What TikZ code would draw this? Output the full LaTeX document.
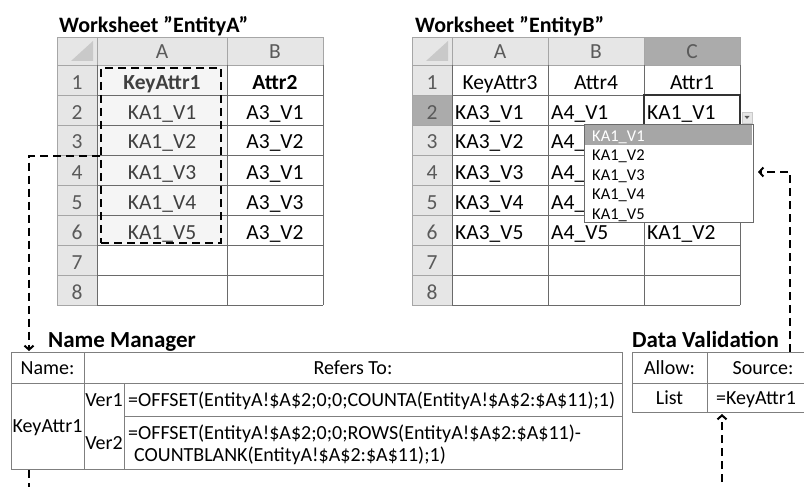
\documentclass[tikz,border=0pt]{standalone}
\usepackage{fontspec}
\setmainfont{Carlito}
\usetikzlibrary{arrows.meta}

\definecolor{hdrfill}{HTML}{E6E6E6}
\definecolor{hdrsel}{HTML}{ABABAB}
\definecolor{corner}{HTML}{C9C9C9}
\definecolor{hdrline}{HTML}{A6A6A6}
\definecolor{gridline}{HTML}{6A6A6A}
\definecolor{hdrtext}{HTML}{5A5A5A}
\definecolor{seltext}{HTML}{404040}
\definecolor{selfill}{HTML}{F5F5F5}
\definecolor{tabline}{HTML}{7F7F7F}
\definecolor{listsel}{HTML}{A6A6A6}

\begin{document}
\begin{tikzpicture}[x=1pt,y=-1pt,
    title/.style={font=\fontsize{23}{27}\selectfont\bfseries, inner sep=0pt, anchor=base west},
    sheettitle/.style={title, font=\fontsize{22}{26}\selectfont\bfseries},
    hdr/.style={font=\fontsize{21.5}{25}\selectfont, text=hdrtext, inner sep=0pt, anchor=base},
    cell/.style={font=\fontsize{21.5}{25}\selectfont, inner sep=0pt, anchor=base},
    bcell/.style={cell, font=\fontsize{21.5}{25}\selectfont\bfseries},
    lcell/.style={cell, anchor=base west},
    item/.style={font=\fontsize{16.5}{19}\selectfont, inner sep=0pt, anchor=base west},
    tab/.style={font=\fontsize{20}{24}\selectfont, inner sep=0pt, anchor=base},
    ltab/.style={tab, anchor=base west},
    link/.style={black, line width=2pt, dash pattern=on 8pt off 5pt},
    tip/.style={-{Straight Barb[length=4pt,width=9pt]}}]
    \useasboundingbox (0,0) rectangle (804,487);
    \clip (0,0) rectangle (804,487);

    % worksheet EntityA
    \node[sheettitle] (titleA) at (59,33) {Worksheet ”EntityA”};
    \fill[hdrfill] (57,37) rectangle (323,65);
    \fill[hdrfill] (57,65) rectangle (97,305);
    \fill[selfill] (97,65) rectangle (227,245);
    \fill[corner] (93,41) -- (93,61) -- (71,61) -- cycle;
    \draw[hdrline] (57,37) rectangle (323,65);
    \draw[hdrline] (57,65) -- (57,305) -- (97,305);
    \draw[hdrline] (97,37) -- (97,65) (227,37) -- (227,65);
    \draw[hdrline] (57,95) -- (97,95) (57,125) -- (97,125) (57,155) -- (97,155) (57,185) -- (97,185)
        (57,215) -- (97,215) (57,245) -- (97,245) (57,275) -- (97,275);
    \draw[gridline] (97,95) -- (323,95) (97,125) -- (323,125) (97,155) -- (323,155) (97,185) -- (323,185)
        (97,215) -- (323,215) (97,245) -- (323,245) (97,275) -- (323,275) (97,305) -- (323,305);
    \draw[gridline] (97,65) -- (97,305) (227,65) -- (227,305) (323,65) -- (323,305);
    \node[hdr] (a-colA) at (162,59) {A};
    \node[hdr] (a-colB) at (275,59) {B};
    \node[hdr] (a-r1) at (77,89) {1};
    \node[hdr] (a-r2) at (77,119) {2};
    \node[hdr] (a-r3) at (77,149) {3};
    \node[hdr] (a-r4) at (77,179) {4};
    \node[hdr] (a-r5) at (77,209) {5};
    \node[hdr] (a-r6) at (77,239) {6};
    \node[hdr] (a-r7) at (77,269) {7};
    \node[hdr] (a-r8) at (77,299) {8};
    \node[bcell, text=seltext] (a-keyattr1) at (162,89) {KeyAttr1};
    \node[cell, text=seltext] (a-ka1v1) at (162,119) {KA1\_V1};
    \node[cell, text=seltext] (a-ka1v2) at (162,149) {KA1\_V2};
    \node[cell, text=seltext] (a-ka1v3) at (162,179) {KA1\_V3};
    \node[cell, text=seltext] (a-ka1v4) at (162,209) {KA1\_V4};
    \node[cell, text=seltext] (a-ka1v5) at (162,239) {KA1\_V5};
    \node[bcell] (a-attr2) at (275,89) {Attr2};
    \node[cell] (a-a3v1) at (275,119) {A3\_V1};
    \node[cell] (a-a3v2) at (275,149) {A3\_V2};
    \node[cell] (a-a3v1b) at (275,179) {A3\_V1};
    \node[cell] (a-a3v3) at (275,209) {A3\_V3};
    \node[cell] (a-a3v2b) at (275,239) {A3\_V2};
    \node[draw, link, minimum width=120pt, minimum height=175pt, inner sep=0pt] (keyrange) at (161,155.5) {};

    % worksheet EntityB
    \node[sheettitle] (titleB) at (415,33) {Worksheet ”EntityB”};
    \fill[hdrfill] (412,37) rectangle (740,65);
    \fill[hdrfill] (412,65) rectangle (452,305);
    \fill[hdrsel] (644,37) rectangle (740,65);
    \fill[hdrsel] (412,95) rectangle (452,125);
    \fill[corner] (448,41) -- (448,61) -- (426,61) -- cycle;
    \draw[hdrline] (412,37) rectangle (740,65);
    \draw[hdrline] (412,65) -- (412,305) -- (452,305);
    \draw[hdrline] (452,37) -- (452,65) (548,37) -- (548,65) (644,37) -- (644,65);
    \draw[hdrline] (412,95) -- (452,95) (412,125) -- (452,125) (412,155) -- (452,155) (412,185) -- (452,185)
        (412,215) -- (452,215) (412,245) -- (452,245) (412,275) -- (452,275);
    \draw[gridline] (452,95) -- (740,95) (452,125) -- (740,125) (452,155) -- (740,155) (452,185) -- (740,185)
        (452,215) -- (740,215) (452,245) -- (740,245) (452,275) -- (740,275) (452,305) -- (740,305);
    \draw[gridline] (452,65) -- (452,305) (548,65) -- (548,305) (644,65) -- (644,305) (740,65) -- (740,305);
    \node[hdr] (b-colA) at (500,59) {A};
    \node[hdr] (b-colB) at (596,59) {B};
    \node[hdr] (b-colC) at (692,59) {C};
    \node[hdr] (b-r1) at (432,89) {1};
    \node[hdr] (b-r2) at (432,119) {2};
    \node[hdr] (b-r3) at (432,149) {3};
    \node[hdr] (b-r4) at (432,179) {4};
    \node[hdr] (b-r5) at (432,209) {5};
    \node[hdr] (b-r6) at (432,239) {6};
    \node[hdr] (b-r7) at (432,269) {7};
    \node[hdr] (b-r8) at (432,299) {8};
    \node[cell] (b-keyattr3) at (500,89) {KeyAttr3};
    \node[cell] (b-attr4) at (596,89) {Attr4};
    \node[cell] (b-attr1) at (692,89) {Attr1};
    \node[lcell] (b-ka3v1) at (455,119) {KA3\_V1};
    \node[lcell] (b-ka3v2) at (455,149) {KA3\_V2};
    \node[lcell] (b-ka3v3) at (455,179) {KA3\_V3};
    \node[lcell] (b-ka3v4) at (455,209) {KA3\_V4};
    \node[lcell] (b-ka3v5) at (455,239) {KA3\_V5};
    \node[lcell] (b-a4v1) at (551,119) {A4\_V1};
    \node[lcell] (b-a4v2) at (551,149) {A4\_};
    \node[lcell] (b-a4v3) at (551,179) {A4\_};
    \node[lcell] (b-a4v4) at (551,209) {A4\_};
    \node[lcell] (b-a4v5) at (551,239) {A4\_V5};
    \node[lcell] (b-ka1v1) at (647,119) {KA1\_V1};
    \node[lcell] (b-ka1v2) at (647,239) {KA1\_V2};
    \draw[line width=2pt, black!80] (644,95) rectangle (740,125);
    % drop-down list
    \draw[fill=hdrfill, draw=corner] (742,112) rectangle (752,123);
    \fill[hdrtext] (744.5,116) -- (749.5,116) -- (747,119) -- cycle;
    \draw[fill=white, draw=gridline, line width=1pt] (584,124) rectangle (753,222);
    \fill[listsel] (585,125) rectangle (752,145);
    \node[item, text=white] (li1) at (592,141) {KA1\_V1};
    \node[item] (li2) at (592,160.5) {KA1\_V2};
    \node[item] (li3) at (592,180) {KA1\_V3};
    \node[item] (li4) at (592,199.5) {KA1\_V4};
    \node[item] (li5) at (592,219) {KA1\_V5};

    % name manager
    \node[title] (nmtitle) at (48,347) {Name Manager};
    \draw[tabline] (11,352) rectangle (622,469);
    \draw[tabline] (11,383) -- (622,383) (124,416) -- (622,416);
    \draw[tabline] (84,352) -- (84,469) (124,383) -- (124,469);
    \coordinate (nmin) at (29,351);
    \coordinate (nmout) at (29,470);
    \node[tab] (nm-name) at (47.5,374) {Name:};
    \node[tab] (nm-refers) at (353,374) {Refers To:};
    \node[tab] (nm-key) at (47.5,432) {KeyAttr1};
    \node[tab] (nm-ver1) at (104,406) {Ver1};
    \node[tab] (nm-ver2) at (104,449) {Ver2};
    \node[ltab] (nm-f1) at (128,406) {=OFFSET(EntityA!\$A\$2;0;0;COUNTA(EntityA!\$A\$2:\$A\$11);1)};
    \node[ltab] (nm-f2a) at (128,439) {=OFFSET(EntityA!\$A\$2;0;0;ROWS(EntityA!\$A\$2:\$A\$11)-};
    \node[ltab] (nm-f2b) at (134,461) {COUNTBLANK(EntityA!\$A\$2:\$A\$11);1)};

    % data validation
    \node[title] (dvtitle) at (632,347) {Data Validation};
    \draw[tabline] (632,352) -- (810,352) (632,383) -- (810,383) (632,412) -- (810,412);
    \draw[tabline] (632,352) -- (632,412) (707,352) -- (707,412);
    \node[tab] (dv-allow) at (669.5,374) {Allow:};
    \node[tab] (dv-source) at (763,374) {Source:};
    \node[tab] (dv-list) at (669.5,404) {List};
    \node[ltab] (dv-key) at (716,404) {=KeyAttr1};
    \coordinate (dvin) at (722,414);
    \coordinate (dvout) at (790,352);
    \coordinate (listin) at (758,172);

    % links
    \draw[link, tip] (keyrange.west) -| (nmin);
    \draw[link, tip] (nmout) -- (29,500) -- (722,500) -- (dvin);
    \draw[link, tip] (dvout) |- (listin);
\end{tikzpicture}
\end{document}
